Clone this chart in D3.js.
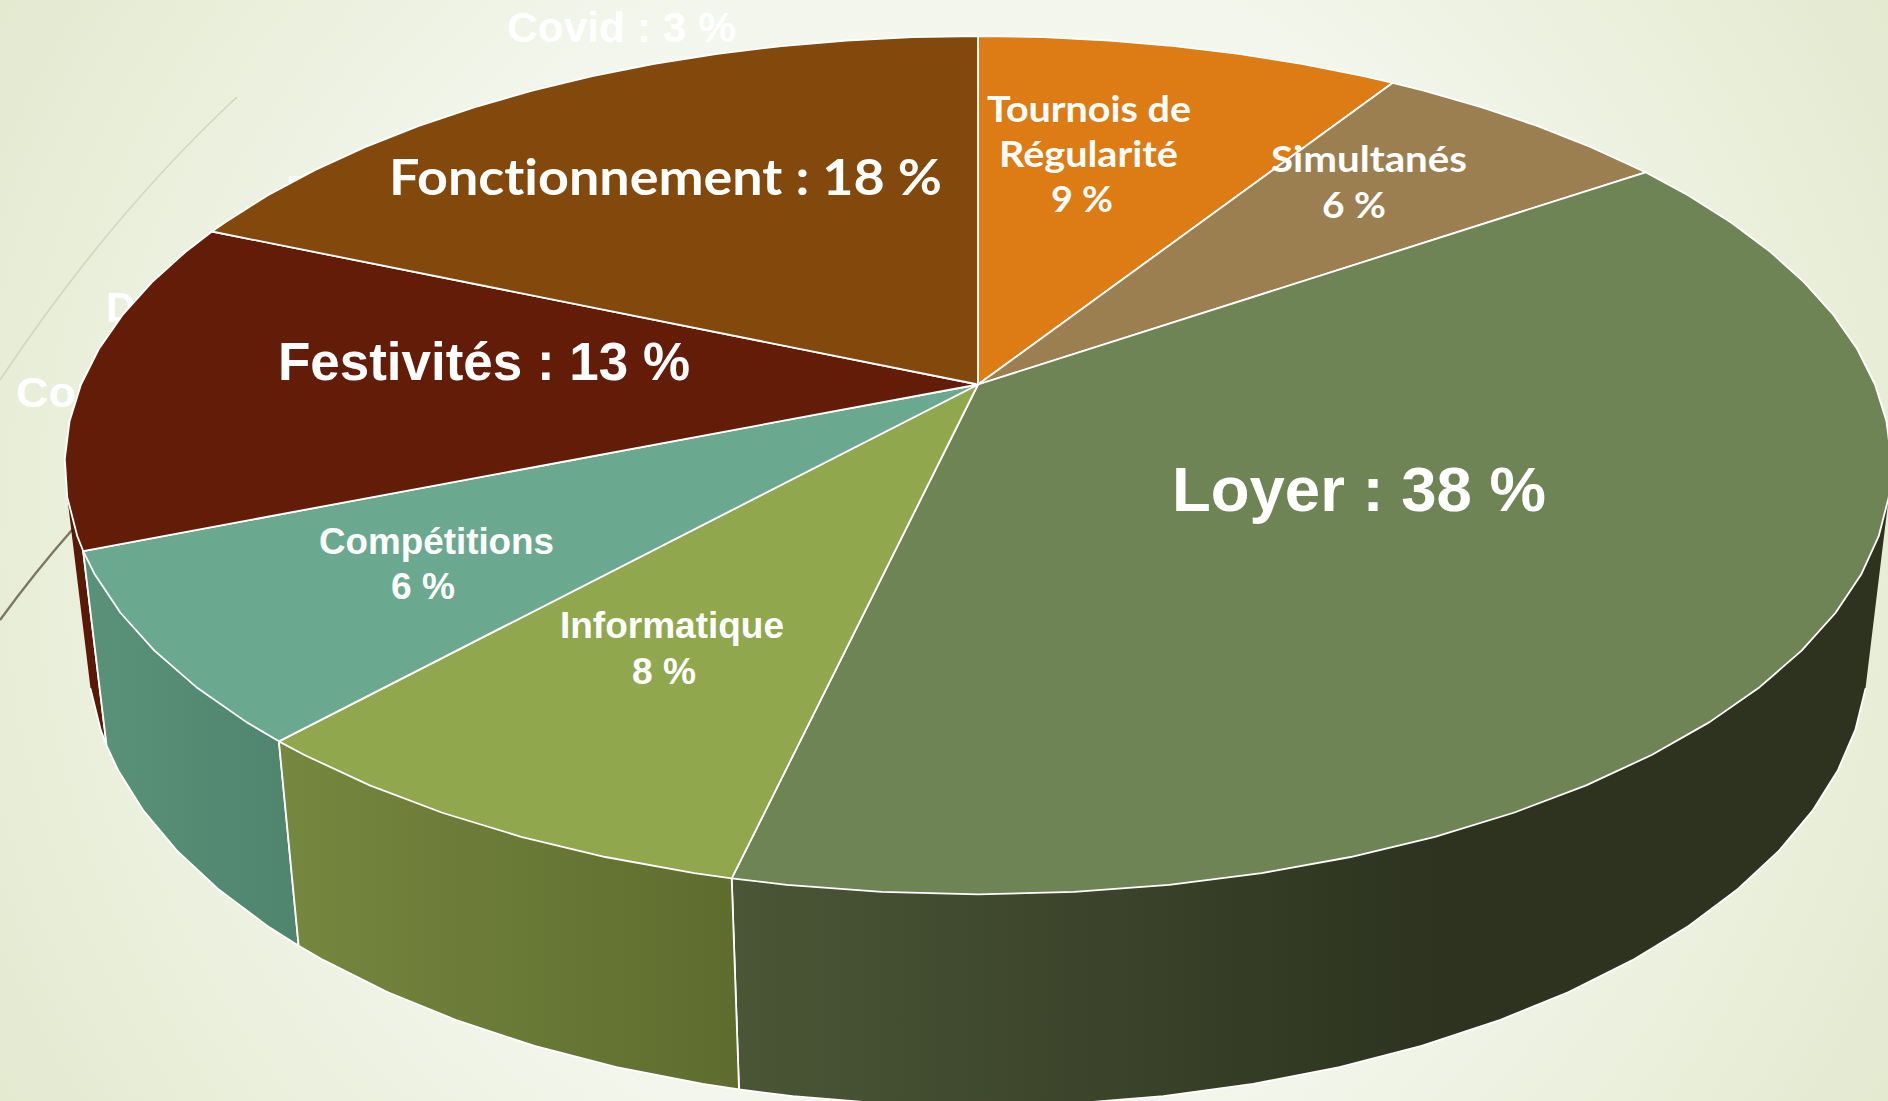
<!DOCTYPE html>
<html lang="fr">
<head>
<meta charset="utf-8">
<title>Répartition des dépenses</title>
<script src="https://cdn.jsdelivr.net/npm/d3@7"></script>
<style>
	html, body { margin: 0; padding: 0; overflow: hidden; }
	svg { display: block; }
	text { fill: #fff; font-weight: bold; text-anchor: start; font-variant-ligatures: none; }
	.arial { font-family: "Liberation Sans", Arial, sans-serif; }
	.gothic { font-family: Lato, "Noto Sans", sans-serif; }
</style>
</head>
<body>
<div id="app"></div>
<script>
// slices clockwise from the back of the pie
const categories = ["Tournois de Régularité", "Simultanés", "Loyer", "Informatique", "Compétitions", "Festivités", "Fonctionnement"];
// share of the circle measured on the picture (the printed labels are rounded)
const sliceShares = [9.0, 6.4, 38.2, 8.1, 7.2, 12.6, 18.5];
const printedValues = ["9 %", "6 %", "38 %", "8 %", "6 %", "13 %", "18 %"];

const topColors = ["#dd7b15", "#9c7f50", "#6f8454", "#90a74e", "#6aa98f", "#621c08", "#83490c"];
const wallFrom = ["#b5630f", "#7d6540", "#4b5636", "#76873f", "#5a9279", "#5a1806", "#6a3a09"];
const wallTo = ["#b5630f", "#7d6540", "#2d331f", "#5e6c2e", "#4f846e", "#5a1806", "#6a3a09"];

// text sits at fixed spots, one entry per line of text
const labelLayout = [
	{ text: "Covid : 3 %", x: 507, y: 42, width: 229, size: 42, cls: "arial", layer: "back" },
	{ text: "D", x: 106, y: 322, width: 30, size: 42, cls: "arial", layer: "back" },
	{ text: "Com", x: 16, y: 407, width: 100, size: 42, cls: "arial", layer: "back" },
	{ text: "F", x: 286, y: 205, width: 26, size: 42, cls: "arial", layer: "back" },
	{ text: "Tournois de", x: 987, y: 122, width: 204, size: 36, cls: "gothic" },
	{ text: "Régularité", x: 999, y: 167, width: 179, size: 36, cls: "gothic" },
	{ text: printedValues[0], x: 1051, y: 212, width: 62, size: 36, cls: "gothic" },
	{ text: categories[1], x: 1271, y: 172, width: 196, size: 36, cls: "gothic" },
	{ text: printedValues[1], x: 1322, y: 218, width: 64, size: 36, cls: "gothic" },
	{ text: "Loyer : " + printedValues[2], x: 1172, y: 511, width: 374, size: 63.5, cls: "arial" },
	{ text: categories[3], x: 560, y: 638, width: 224, size: 37, cls: "arial" },
	{ text: printedValues[3], x: 632, y: 684, width: 64, size: 37, cls: "arial" },
	{ text: categories[4], x: 319, y: 554, width: 235, size: 37, cls: "arial" },
	{ text: printedValues[4], x: 391, y: 599, width: 64, size: 37, cls: "arial" },
	{ text: "Festivités : " + printedValues[5], x: 278, y: 380, width: 412, size: 53, cls: "arial" },
	{ text: "Fonctionnement : " + printedValues[6], x: 389, y: 195, width: 553, size: 50, cls: "gothic" }
];

const width = 1888;
const height = 1101;

// perspective view of the disc, fitted to the picture
const view = { cx: 978, cy: 384.5, scaleX: 897, scaleY: 414, tilt: -0.188, drop: 190, shrink: 0.025 };

function project(angle, z) {
	const u = Math.sin(angle);
	const v = -Math.cos(angle);
	const w = 1 + view.tilt * v + view.shrink * z;
	return [view.cx + view.scaleX * u / w, view.cy + (view.scaleY * v + view.drop * z) / w];
}

// the original outline is faceted, so keep a coarse step
function rimAngles(start, end) {
	const step = Math.PI / 36;
	const list = [start];
	let a = Math.ceil(start / step + 0.001) * step;
	while (a < end) {
		list.push(a);
		a += step;
	}
	list.push(end);
	return list;
}

const slices = d3.pie().sort(null).startAngle(0).endAngle(2 * Math.PI)(sliceShares);
const line = d3.line();

const svg = d3.select("#app").append("svg")
	.attr("width", width)
	.attr("height", height);

const defs = svg.append("defs");

const bg = defs.append("radialGradient")
	.attr("id", "bg")
	.attr("gradientUnits", "userSpaceOnUse")
	.attr("cx", 944)
	.attr("cy", 550)
	.attr("r", 1080);
bg.append("stop").attr("offset", 0).attr("stop-color", "#fbfcf9");
bg.append("stop").attr("offset", 0.55).attr("stop-color", "#f3f6ec");
bg.append("stop").attr("offset", 1).attr("stop-color", "#e4ead0");

svg.append("rect")
	.attr("width", width)
	.attr("height", height)
	.attr("fill", "url(#bg)");

// thin theme lines behind the pie
svg.append("path")
	.attr("d", "M237,97 Q110,215 0,380")
	.attr("fill", "none")
	.attr("stroke", "#d2d7c2")
	.attr("stroke-width", 1.7);
svg.append("path")
	.attr("d", "M72,530 Q35,572 0,620")
	.attr("fill", "none")
	.attr("stroke", "#7c7760")
	.attr("stroke-width", 2.4);

function drawLabels(parent, list) {
	parent.selectAll("text")
		.data(list)
		.enter()
		.append("text")
		.attr("class", d => d.cls)
		.attr("x", d => d.x)
		.attr("y", d => d.y)
		.attr("font-size", d => d.size)
		.attr("textLength", d => d.width)
		.attr("lengthAdjust", "spacingAndGlyphs")
		.text(d => d.text);
}

drawLabels(svg.append("g"), labelLayout.filter(d => d.layer === "back"));

// side walls, back ones first
const wallOrder = slices.slice().sort((a, b) => {
	const midA = -Math.cos((a.startAngle + a.endAngle) / 2);
	const midB = -Math.cos((b.startAngle + b.endAngle) / 2);
	return midA - midB;
});

wallOrder.forEach(d => {
	const angles = rimAngles(d.startAngle, d.endAngle);
	const topRim = angles.map(a => project(a, 0));
	const bottomRim = angles.map(a => project(a, 1));
	const xs = d3.extent(topRim.concat(bottomRim), p => p[0]);
	const isLoyer = d.index === 2;

	const grad = defs.append("linearGradient")
		.attr("id", "wall" + d.index)
		.attr("gradientUnits", "userSpaceOnUse")
		.attr("x1", xs[0])
		.attr("x2", isLoyer ? xs[0] + 700 : xs[1])
		.attr("y1", 0)
		.attr("y2", 0);
	grad.append("stop").attr("offset", 0).attr("stop-color", wallFrom[d.index]);
	grad.append("stop").attr("offset", 1).attr("stop-color", wallTo[d.index]);

	// keep only the facets that face the viewer, the rest are under the top face
	const facets = d3.pairs(d3.range(angles.length))
		.map(([i, j]) => ({ i, j, quad: [topRim[i], topRim[j], bottomRim[j], bottomRim[i]] }))
		.filter(f => d3.polygonArea(f.quad) > 0);

	const wall = svg.append("g");

	// a single path, so no hairlines show between the facets
	wall.append("path")
		.attr("d", facets.map(f => line(f.quad) + "Z").join(""))
		.attr("fill", "url(#wall" + d.index + ")");

	// visible bottom rim and the two seams
	const edges = [[topRim[0], bottomRim[0]], [topRim[topRim.length - 1], bottomRim[bottomRim.length - 1]]];
	facets.forEach(f => edges.push([bottomRim[f.i], bottomRim[f.j]]));
	wall.append("path")
		.attr("d", edges.map(e => line(e)).join(""))
		.attr("fill", "none")
		.attr("stroke", "#fff")
		.attr("stroke-width", 1.8)
		.attr("stroke-linecap", "round");
});

// top face
svg.append("g")
	.selectAll("path")
	.data(slices)
	.enter()
	.append("path")
	.attr("d", d => {
		const rim = rimAngles(d.startAngle, d.endAngle).map(a => project(a, 0));
		return line([[view.cx, view.cy]].concat(rim)) + "Z";
	})
	.attr("fill", d => topColors[d.index])
	.attr("stroke", "#fff")
	.attr("stroke-width", 1.8)
	.attr("stroke-linejoin", "round");

drawLabels(svg.append("g"), labelLayout.filter(d => d.layer !== "back"));
</script>
</body>
</html>
